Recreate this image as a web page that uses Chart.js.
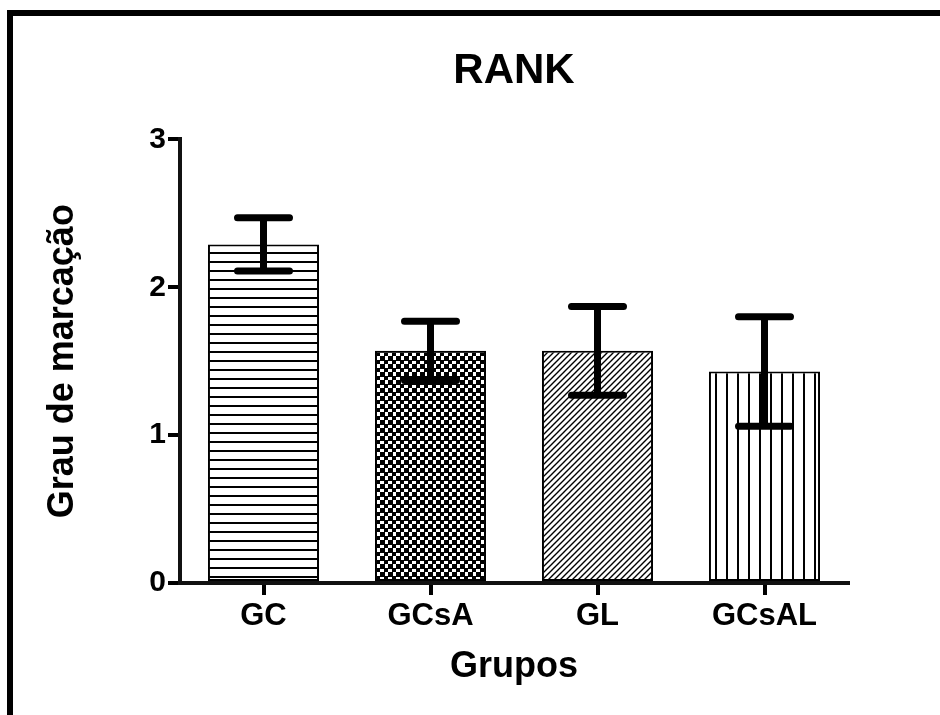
<!DOCTYPE html>
<html>
<head>
<meta charset="utf-8">
<title>RANK</title>
<script src="https://cdn.jsdelivr.net/npm/chart.js@4/dist/chart.umd.min.js"></script>
<style>
  html, body { margin: 0; padding: 0; background: #fff; }
  #wrap { width: 940px; height: 715px; }
</style>
</head>
<body>
<div id="wrap"><canvas id="chart" width="940" height="715"></canvas></div>
<script>
// values
var groups = ['GC', 'GCsA', 'GL', 'GCsAL'];
var means = [2.29, 1.57, 1.57, 1.43];
var sems = [0.18, 0.20, 0.30, 0.37];
var yTicks = [0, 1, 2, 3];

var FONT = '"Liberation Sans", Arial, Helvetica, sans-serif';

function makePattern(kind) {
  var c = document.createElement('canvas');
  var g = c.getContext('2d');
  if (kind === 'hlines') {
    c.width = 8; c.height = 9;
    g.fillStyle = '#fff'; g.fillRect(0, 0, 8, 9);
    g.fillStyle = '#000'; g.fillRect(0, 0, 8, 2);
  } else if (kind === 'checker') {
    c.width = 8; c.height = 8;
    g.fillStyle = '#fff'; g.fillRect(0, 0, 8, 8);
    g.fillStyle = '#000';
    g.fillRect(0, 0, 4, 4);
    g.fillRect(4, 4, 4, 4);
    g.fillRect(0, 0, 8, 1);
    g.fillRect(0, 0, 1, 8);
  } else if (kind === 'diag') {
    c.width = 6; c.height = 6;
    g.fillStyle = '#fff'; g.fillRect(0, 0, 6, 6);
    g.strokeStyle = '#000'; g.lineWidth = 1.4;
    g.beginPath();
    g.moveTo(-1, 7); g.lineTo(7, -1);
    g.moveTo(-4, 4); g.lineTo(4, -4);
    g.moveTo(2, 10); g.lineTo(10, 2);
    g.stroke();
  } else {
    c.width = 11; c.height = 8;
    g.fillStyle = '#fff'; g.fillRect(0, 0, 11, 8);
    g.fillStyle = '#000'; g.fillRect(0, 0, 2, 8);
  }
  return g.createPattern(c, 'repeat');
}

var fills = [makePattern('hlines'), makePattern('checker'), makePattern('diag'), makePattern('vlines')];

// white page with the heavy frame on the left and top
var framePlugin = {
  id: 'frame',
  beforeDraw: function (chart) {
    var ctx = chart.ctx;
    ctx.save();
    ctx.fillStyle = '#fff';
    ctx.fillRect(0, 0, chart.width, chart.height);
    ctx.fillStyle = '#000';
    ctx.fillRect(7, 10, 6, chart.height - 10);
    ctx.fillRect(7, 10, chart.width - 7, 6);
    ctx.restore();
  }
};

// SEM error bars
var errorBarPlugin = {
  id: 'errorBars',
  afterDatasetsDraw: function (chart) {
    var ctx = chart.ctx;
    var yScale = chart.scales.y;
    var meta = chart.getDatasetMeta(0);
    ctx.save();
    ctx.strokeStyle = '#000';
    ctx.lineWidth = 7;
    meta.data.forEach(function (bar, i) {
      var x = bar.x;
      var yHi = yScale.getPixelForValue(means[i] + sems[i]);
      var yLo = yScale.getPixelForValue(means[i] - sems[i]);
      ctx.lineCap = 'butt';
      ctx.beginPath();
      ctx.moveTo(x, yLo);
      ctx.lineTo(x, yHi);
      ctx.stroke();
      ctx.lineCap = 'round';
      ctx.beginPath();
      ctx.moveTo(x - 26, yHi); ctx.lineTo(x + 26, yHi);
      ctx.moveTo(x - 26, yLo); ctx.lineTo(x + 26, yLo);
      ctx.stroke();
    });
    ctx.restore();
  }
};

new Chart(document.getElementById('chart'), {
  type: 'bar',
  data: {
    labels: groups,
    datasets: [{
      data: means,
      backgroundColor: fills,
      borderColor: '#000',
      borderWidth: 2,
      borderSkipped: false,
      categoryPercentage: 1,
      barPercentage: 0.665
    }]
  },
  options: {
    responsive: false,
    animation: false,
    devicePixelRatio: 1,
    layout: { padding: { left: 0, right: 92, top: 0, bottom: 0 } },
    plugins: {
      legend: { display: false },
      tooltip: { enabled: false },
      title: {
        display: true,
        fullSize: false,
        text: 'RANK',
        color: '#000',
        font: { family: FONT, size: 42, weight: 'bold' },
        padding: { top: 46, bottom: 43 }
      }
    },
    scales: {
      x: {
        z: 1,
        grid: { display: true, drawOnChartArea: false, drawTicks: true, tickLength: 12, lineWidth: 4, color: '#000', offset: false },
        border: { display: true, color: '#111', width: 4 },
        ticks: { color: '#000', padding: 3, font: { family: FONT, size: 31, weight: 'bold' } },
        title: {
          display: true,
          text: 'Grupos',
          color: '#000',
          font: { family: FONT, size: 36, weight: 'bold' },
          padding: { top: 0, bottom: 26 }
        },
        afterFit: function (scale) { scale.height = 132; }
      },
      y: {
        min: 0,
        max: 3,
        z: 1,
        afterBuildTicks: function (scale) {
          scale.ticks = yTicks.map(function (v) { return { value: v }; });
        },
        grid: { display: true, drawOnChartArea: false, drawTicks: true, tickLength: 12, lineWidth: 4, color: '#000' },
        border: { display: true, color: '#111', width: 4 },
        ticks: { color: '#000', padding: 2, font: { family: FONT, size: 30, weight: 'bold' } },
        title: {
          display: true,
          text: 'Grau de marcação',
          color: '#000',
          font: { family: FONT, size: 36, weight: 'bold' },
          padding: { top: 41, bottom: 0 }
        },
        afterFit: function (scale) { scale.width = 180; }
      }
    }
  },
  plugins: [framePlugin, errorBarPlugin]
});
</script>
</body>
</html>
